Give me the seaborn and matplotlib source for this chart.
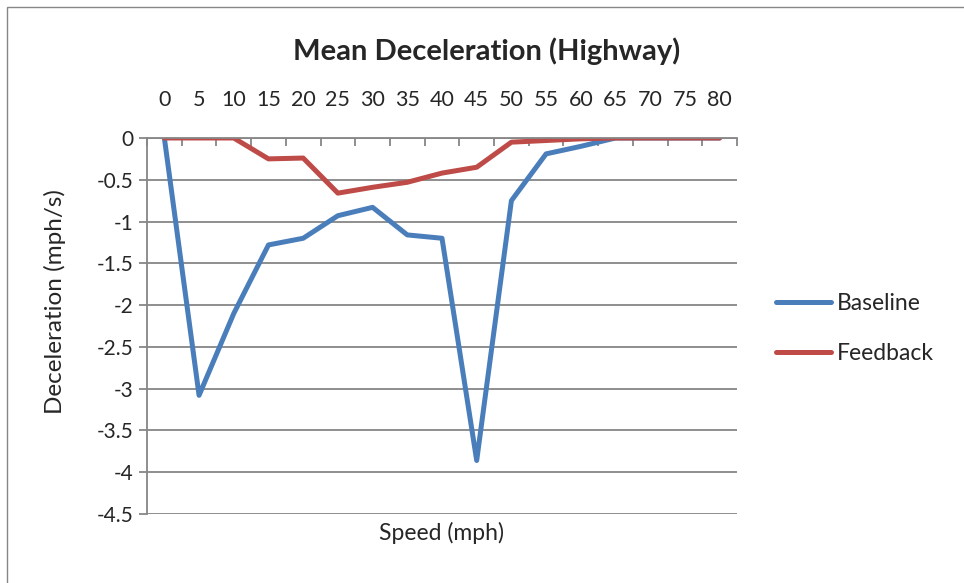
import numpy as np
import pandas as pd
import matplotlib.pyplot as plt
import seaborn as sns
from matplotlib.patches import Rectangle

sns.set_style('white')
plt.rcParams['font.family'] = ['Lato', 'DejaVu Sans']

# speed bins (mph) and mean deceleration (mph/s)
speed = [0, 5, 10, 15, 20, 25, 30, 35, 40, 45, 50, 55, 60, 65, 70, 75, 80]
baseline = [0, -3.08, -2.1, -1.28, -1.2, -0.93, -0.83, -1.16, -1.2, -3.86,
            -0.75, -0.19, -0.1, 0, 0, 0, 0]
feedback = [0, 0, 0, -0.25, -0.24, -0.66, -0.59, -0.53, -0.42, -0.35,
            -0.05, -0.03, -0.01, 0, 0, 0, 0]
series = ['Baseline', 'Feedback']
colors = ['#4A7EBB', '#BE4B48']

df = pd.DataFrame({
    'Speed': speed * 2,
    'Decel': baseline + feedback,
    'Series': [series[0]] * len(speed) + [series[1]] * len(speed),
})

fig = plt.figure(figsize=(9.64, 5.83), dpi=100)
ax = fig.add_axes([0.1525, 0.1184, 0.612, 0.6449])

sns.lineplot(data=df, x='Speed', y='Decel', hue='Series', palette=colors,
             linewidth=3.6, ax=ax, legend=False, solid_capstyle='round')

grid_c = '#868686'
ax.set_xlim(-2.5, 82.5)
ax.set_ylim(-4.5, 0)
ax.set_yticks(np.arange(-4.5, 0.01, 0.5))
ax.set_yticklabels(['-4.5', '-4', '-3.5', '-3', '-2.5', '-2', '-1.5', '-1', '-0.5', '0'])
ax.yaxis.grid(True, color=grid_c, linewidth=1.3)
ax.set_axisbelow(True)

# category labels on top, tick marks at bin boundaries pointing down
ax.xaxis.tick_top()
ax.set_xticks(speed)
ax.set_xticklabels([str(s) for s in speed])
ax.set_xticks(np.arange(-2.5, 83, 5), minor=True)
ax.tick_params(axis='x', which='major', length=0, labelsize=15.5, pad=20)
ax.tick_params(axis='x', which='minor', top=True, direction='in', length=6,
               width=1.3, color=grid_c)
ax.tick_params(axis='y', direction='out', length=6, width=1.3, color=grid_c,
               labelsize=15, pad=4, left=True)

for side in ['right', 'bottom']:
    ax.spines[side].set_visible(False)
for side in ['top', 'left']:
    ax.spines[side].set_color(grid_c)
    ax.spines[side].set_linewidth(1.3)

ax.xaxis.set_label_position('bottom')
ax.set_xlabel('Speed (mph)', fontsize=16.5, labelpad=6)
ax.set_ylabel('Deceleration (mph/s)', fontsize=17.5)
ax.yaxis.set_label_coords(-0.137, 0.565)
ax.set_title('Mean Deceleration (Highway)', fontsize=21, fontweight='bold',
             pad=56, x=0.575)

handles = [plt.Line2D([], [], color=c, linewidth=3.6, solid_capstyle='round') for c in colors]
fig.legend(handles, series, loc='center left', bbox_to_anchor=(0.784, 0.437),
           frameon=False, fontsize=16.5, handlelength=2.4, handletextpad=0.25,
           labelspacing=1.25)

# outer chart border
fig.patches.append(Rectangle((0.007, -0.05), 1.1, 1.038, transform=fig.transFigure,
                             fill=False, edgecolor='#868686', linewidth=1.0))

fig.savefig('out.png', dpi=100)
